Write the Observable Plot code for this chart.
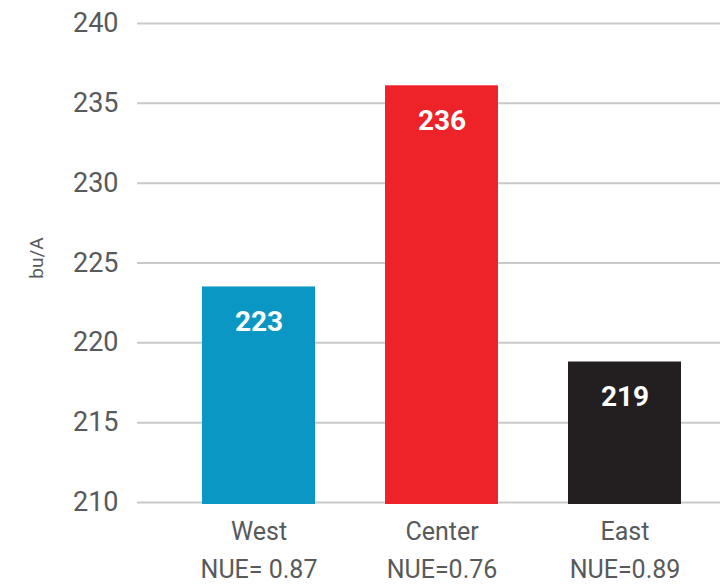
<!DOCTYPE html>
<html>
<head>
<meta charset="utf-8">
<script src="https://cdn.jsdelivr.net/npm/d3@7"></script>
<script src="https://cdn.jsdelivr.net/npm/@observablehq/plot@0.6"></script>
<style>
  html, body { margin: 0; padding: 0; background: #fff; }
  #chart { width: 720px; height: 584px; }
</style>
</head>
<body>
<div id="chart"></div>
<script>
const regions = ["West", "Center", "East"];
const nueLabels = ["NUE= 0.87", "NUE=0.76", "NUE=0.89"];
const yields = [223.5, 236.1, 218.8];
const valueLabels = ["223", "236", "219"];
const barColors = ["#0a97c4", "#ee2229", "#231f20"];
const yTicks = [210, 215, 220, 225, 230, 235, 240];
const yLabel = "bu/A";

const rows = regions.map((r, i) => ({
  region: r,
  nue: nueLabels[i],
  value: yields[i],
  label: valueLabels[i],
  color: barColors[i]
}));

const fontFamily = "Roboto, 'Noto Sans', sans-serif";
const textColor = "#58595b";

const chart = Plot.plot({
  width: 720,
  height: 584,
  marginTop: 23,
  marginBottom: 82,
  marginLeft: 137,
  marginRight: 0,
  style: { fontFamily, color: textColor, background: "#fff" },
  x: { domain: regions, paddingInner: 0.384, paddingOuter: 0.28, align: 0.626, label: null },
  y: { domain: [210, 240], label: null },
  marks: [
    Plot.ruleY(yTicks, { stroke: "#c8c9cb", strokeWidth: 2 }),
    Plot.barY(rows, {
      x: "region",
      y1: 210,
      y2: "value",
      fill: "color",
      insetBottom: -2
    }),
    Plot.text(rows, {
      x: "region",
      y: "value",
      text: "label",
      dy: 35,
      fill: "#fff",
      fontSize: 28,
      fontWeight: "bold",
      lineAnchor: "middle"
    }),
    Plot.axisY({
      ticks: yTicks,
      tickSize: 0,
      tickPadding: 19,
      fontSize: 27,
      label: null,
      fill: textColor
    }),
    Plot.axisX({
      tickSize: 0,
      tickPadding: 11,
      fontSize: 25,
      lineHeight: 1.5,
      label: null,
      fill: textColor,
      tickFormat: (d) => d + "\n" + nueLabels[regions.indexOf(d)]
    }),
    Plot.text([yLabel], {
      frameAnchor: "left",
      text: (d) => d,
      rotate: -90,
      dx: -101,
      dy: -5,
      fontSize: 19,
      fill: textColor,
      textAnchor: "middle",
      lineAnchor: "middle"
    })
  ]
});

document.getElementById("chart").appendChild(chart);
</script>
</body>
</html>
